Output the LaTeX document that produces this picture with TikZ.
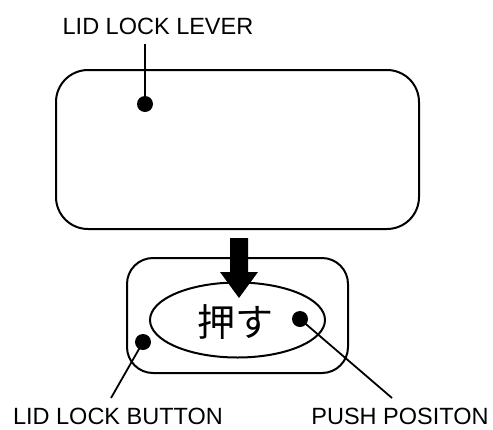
\documentclass[tikz,border=0pt]{standalone}
\usepackage{fontspec}
\setmainfont{Liberation Sans}
\newfontfamily\cjk{Noto Sans CJK JP}
\usetikzlibrary{shapes.geometric}
\begin{document}
\begin{tikzpicture}[x=1pt,y=-1pt,
  outline/.style={draw=black,line width=2pt},
  leader/.style={draw=black,line width=1.8pt},
  dotmark/.style={circle,fill=black,inner sep=0pt,minimum size=16pt},
  lbl/.style={font=\fontsize{23.5}{28}\selectfont,inner sep=0pt}]
\useasboundingbox (0,0) rectangle (493,429);
% lever
\draw[outline,rounded corners=32pt] (56,70) rectangle (419,229);
\node[lbl] (levertxt) at (158,26) {LID LOCK LEVER};
\node[dotmark] (leverdot) at (145,104) {};
\coordinate (levertop) at (145,44);
\draw[leader] (levertop) -- (leverdot.center);
% button
\draw[outline,rounded corners=26pt] (127,258) rectangle (348,373);
\node[ellipse,outline,minimum width=175pt,minimum height=75pt,inner sep=0pt] (push) at (237.5,320) {};
\node[font=\cjk\fontsize{38}{42}\selectfont,inner sep=0pt] (pushtxt) at (235,322) {押す};
% arrow
\fill[black] (230,238) -- (248,238) -- (248,272) -- (258,272) -- (239,298) -- (220,272) -- (230,272) -- cycle;
% button label
\node[dotmark] (btndot) at (143,342) {};
\coordinate (btnend) at (111,398);
\draw[leader] (btndot.center) -- (btnend);
\node[lbl] (btntxt) at (118,416) {LID LOCK BUTTON};
% push label
\node[dotmark] (pushdot) at (300,319) {};
\coordinate (pushend) at (392,398);
\draw[leader] (pushdot.center) -- (pushend);
\node[lbl] (pushlbl) at (400,416) {PUSH POSITON};
\end{tikzpicture}
\end{document}
